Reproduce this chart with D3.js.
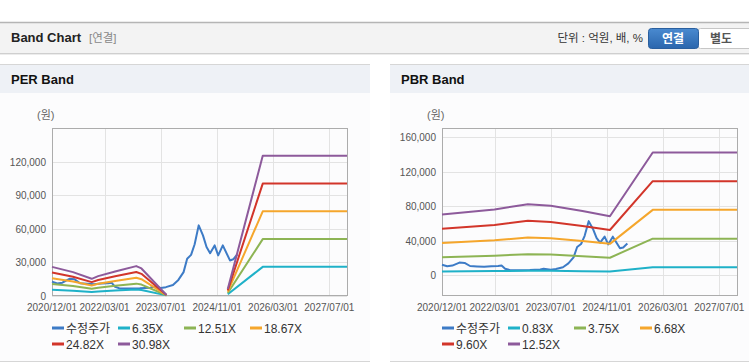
<!DOCTYPE html>
<html>
<head>
<meta charset="utf-8">
<script src="https://cdn.jsdelivr.net/npm/d3@7"></script>
<style>
body { margin: 0; background: #fff; }
svg { display: block; font-family: "Liberation Sans", Arial, "Noto Sans CJK KR", sans-serif; }
</style>
</head>
<body>
<svg id="chart" width="749" height="364"></svg>
<script>
/* Data */
var parseDate = d3.timeParse("%Y-%m-%d");

// 수정주가 (adjusted price), shared by both charts
var priceDates = ["2020-12-01","2021-01-15","2021-03-01","2021-05-01","2021-06-15","2021-08-01","2021-10-01","2021-12-01",
  "2022-02-01","2022-04-01","2022-05-01","2022-06-01","2022-07-15","2023-01-01","2023-04-01","2023-05-01","2023-07-01",
  "2023-08-15","2023-10-15","2023-12-01","2024-01-15","2024-02-15","2024-03-20","2024-04-20","2024-05-25","2024-07-01",
  "2024-08-01","2024-09-01","2024-10-10","2024-11-10","2024-12-20","2025-02-20","2025-03-20","2025-04-25"];
var priceValues = [12500,10800,11500,15000,14500,11000,10500,10000,
  10800,11000,11500,7800,6200,6500,7000,7800,6800,
  7500,9500,14000,21000,33000,36500,46000,63000,54000,
  43500,38000,45000,36000,45000,31500,32500,37000];

// PER band (null = gap where the band is not drawn)
var perDates = ["2020-12-01","2021-06-01","2021-11-10","2022-01-05","2022-06-01","2022-12-01","2023-01-15","2023-08-20",
  "2024-06-01","2025-02-01","2025-12-01","2027-12-01"];
var perLabels = ["6.35X", "12.51X", "18.67X", "24.82X", "30.98X"];
var per635  = [5270, 4300, 3070, 3570, 4410, 5410, 4980, 100, null, 1170, 25720, 25720];
var per1251 = [10380, 8480, 6060, 7030, 8680, 10660, 9810, 200, null, 2310, 50670, 50670];
var per1867 = [15500, 12660, 9040, 10490, 12960, 15910, 14640, 300, null, 3450, 75610, 75610];
var per2482 = [20600, 16830, 12020, 13940, 17220, 21150, 19460, 400, null, 4590, 100520, 100520];
var per3098 = [25700, 21000, 15000, 17400, 21500, 26400, 24300, 500, null, 5730, 125470, 125470];

// PBR band
var pbrDates = ["2020-12-01","2022-03-01","2022-12-15","2023-07-01","2024-04-01","2024-11-25","2025-12-01","2027-12-01"];
var pbrLabels = ["0.83X", "3.75X", "6.68X", "9.60X", "12.52X"];
var pbr083  = [4690, 5070, 5480, 5350, 4960, 4560, 9450, 9450];
var pbr375  = [21180, 22910, 24750, 24190, 22430, 20590, 42710, 42710];
var pbr668  = [37720, 40810, 44090, 43090, 39950, 36670, 76090, 76090];
var pbr960  = [54210, 58660, 63360, 61920, 57410, 52700, 109340, 109340];
var pbr1252 = [70700, 76500, 82630, 80750, 74870, 68730, 142600, 142600];

var xTickDates = ["2020-12-01","2022-03-01","2023-07-01","2024-11-01","2026-03-01","2027-07-01"];
var perYTicks = [0, 30000, 60000, 90000, 120000];
var pbrYTicks = [0, 40000, 80000, 120000, 160000];

var colors = ["#3d7bc6", "#1fb1c8", "#8db454", "#f5a62c", "#d2352a", "#8d5a9b"];

var svg = d3.select("#chart");

/* Page header */
svg.append("rect").attr("x", 0).attr("y", 22).attr("width", 749).attr("height", 31).attr("fill", "#f3f3f3");
svg.append("line").attr("x1", 0).attr("x2", 749).attr("y1", 22.5).attr("y2", 22.5).attr("stroke", "#b5b5b5").attr("stroke-width", 1.5);
svg.append("line").attr("x1", 0).attr("x2", 749).attr("y1", 53.5).attr("y2", 53.5).attr("stroke", "#cfcfcf");
svg.append("line").attr("x1", 0).attr("x2", 749).attr("y1", 54.5).attr("y2", 54.5).attr("stroke", "#ececec");
svg.append("text").attr("x", 11).attr("y", 42).attr("font-size", 13).attr("font-weight", "bold").attr("fill", "#222").text("Band Chart");
svg.append("text").attr("x", 89).attr("y", 42).attr("font-size", 11.5).attr("fill", "#888").text("[연결]");
svg.append("text").attr("x", 643).attr("y", 42).attr("text-anchor", "end").attr("font-size", 11.5).attr("fill", "#333").text("단위 : 억원, 배, %");

var btnGrad = svg.append("defs").append("linearGradient").attr("id", "btnBlue").attr("x1", 0).attr("x2", 0).attr("y1", 0).attr("y2", 1);
btnGrad.append("stop").attr("offset", "0%").attr("stop-color", "#4a8ad0");
btnGrad.append("stop").attr("offset", "100%").attr("stop-color", "#2a66ad");
svg.append("rect").attr("x", 697.5).attr("y", 28.5).attr("width", 60).attr("height", 20).attr("rx", 3).attr("fill", "#fff").attr("stroke", "#c6c6c6");
svg.append("rect").attr("x", 648.5).attr("y", 28.5).attr("width", 50).attr("height", 20).attr("rx", 3).attr("fill", "url(#btnBlue)").attr("stroke", "#2a5f9e");
svg.append("text").attr("x", 673).attr("y", 43).attr("text-anchor", "middle").attr("font-size", 12).attr("font-weight", "bold").attr("fill", "#fff").text("연결");
svg.append("text").attr("x", 721).attr("y", 43).attr("text-anchor", "middle").attr("font-size", 12).attr("font-weight", "bold").attr("fill", "#555").text("별도");

/* One band chart panel */
function drawPanel(cfg) {
  var g = svg.append("g");
  // panel frame
  g.append("rect").attr("x", cfg.panelX).attr("y", 64).attr("width", cfg.panelW).attr("height", 297).attr("fill", "#fcfcfd");
  g.append("rect").attr("x", cfg.panelX).attr("y", 64).attr("width", cfg.panelW).attr("height", 29).attr("fill", "#eef1f6");
  g.append("line").attr("x1", cfg.panelX).attr("x2", cfg.panelX + cfg.panelW).attr("y1", 64.5).attr("y2", 64.5).attr("stroke", "#d6d6d6");
  g.append("line").attr("x1", cfg.panelX).attr("x2", cfg.panelX + cfg.panelW).attr("y1", 361.5).attr("y2", 361.5).attr("stroke", "#d6d6d6");
  g.append("text").attr("x", cfg.panelX + 11).attr("y", 84).attr("font-size", 13).attr("font-weight", "bold").attr("fill", "#111").text(cfg.title);

  var x = d3.scaleTime()
    .domain([parseDate("2020-12-01"), parseDate("2027-12-01")])
    .range([cfg.left, cfg.left + 295]);
  var y = d3.scaleLinear().domain(cfg.yDomain).range([295.5, 128.5]);

  // gridlines
  g.selectAll(".vgrid").data(xTickDates.slice(1)).enter().append("line")
    .attr("x1", d => Math.round(x(parseDate(d))) + 0.5).attr("x2", d => Math.round(x(parseDate(d))) + 0.5)
    .attr("y1", 128.5).attr("y2", 295.5).attr("stroke", "#e3e3e3");
  g.selectAll(".hgrid").data(cfg.yTicks).enter().append("line")
    .attr("x1", cfg.left).attr("x2", cfg.left + 295)
    .attr("y1", d => Math.round(y(d)) + 0.5).attr("y2", d => Math.round(y(d)) + 0.5)
    .attr("stroke", "#e3e3e3");

  // plot border
  g.append("rect").attr("x", cfg.left + 0.5).attr("y", 128.5).attr("width", 295).attr("height", 167)
    .attr("fill", "none").attr("stroke", "#acacac");

  // axes labels
  g.selectAll(".ylab").data(cfg.yTicks).enter().append("text")
    .attr("x", cfg.left - 6).attr("y", d => y(d) + 4)
    .attr("text-anchor", "end").attr("font-size", 10).attr("fill", "#555")
    .text(d => d3.format(",")(d));
  g.selectAll(".xlab").data(xTickDates).enter().append("text")
    .attr("x", d => x(parseDate(d))).attr("y", 311)
    .attr("text-anchor", "middle").attr("font-size", 10).attr("fill", "#555")
    .text(d => d.replace(/-/g, "/"));
  g.append("text").attr("x", cfg.left - 15).attr("y", 119).attr("font-size", 11).attr("fill", "#666").text("(원)");

  var line = d3.line()
    .defined(d => d.v != null)
    .x(d => x(d.date))
    .y(d => y(d.v));

  // price first, bands drawn over it
  var pricePts = priceDates.map((d, j) => ({ date: parseDate(d), v: priceValues[j] }));
  g.append("path").datum(pricePts).attr("d", line)
    .attr("fill", "none").attr("stroke", colors[0]).attr("stroke-width", 2)
    .attr("stroke-linejoin", "round");
  cfg.bands.forEach(function (vals, i) {
    var pts = cfg.bandDates.map((d, j) => ({ date: parseDate(d), v: vals[j] }));
    g.append("path").datum(pts).attr("d", line)
      .attr("fill", "none").attr("stroke", colors[i + 1]).attr("stroke-width", 2)
      .attr("stroke-linejoin", "round");
  });

  // legend
  var names = ["수정주가"].concat(cfg.labels);
  var leg = g.selectAll(".leg").data(names).enter().append("g")
    .attr("transform", (d, i) => "translate(" + (cfg.left + (i % 4) * 66) + "," + (i < 4 ? 328 : 344) + ")");
  leg.append("line").attr("x1", 0).attr("x2", 12).attr("y1", 0).attr("y2", 0)
    .attr("stroke", (d, i) => colors[i]).attr("stroke-width", 3);
  leg.append("text").attr("x", 14).attr("y", 4.5).attr("font-size", 12).attr("fill", "#333").text(d => d);
}

drawPanel({
  title: "PER Band", panelX: 0, panelW: 370, left: 52,
  yDomain: [0, 150000], yTicks: perYTicks,
  bandDates: perDates, labels: perLabels,
  bands: [per635, per1251, per1867, per2482, per3098]
});
drawPanel({
  title: "PBR Band", panelX: 390, panelW: 359, left: 442,
  yDomain: [-23200, 170400], yTicks: pbrYTicks,
  bandDates: pbrDates, labels: pbrLabels,
  bands: [pbr083, pbr375, pbr668, pbr960, pbr1252]
});
</script>
</body>
</html>
